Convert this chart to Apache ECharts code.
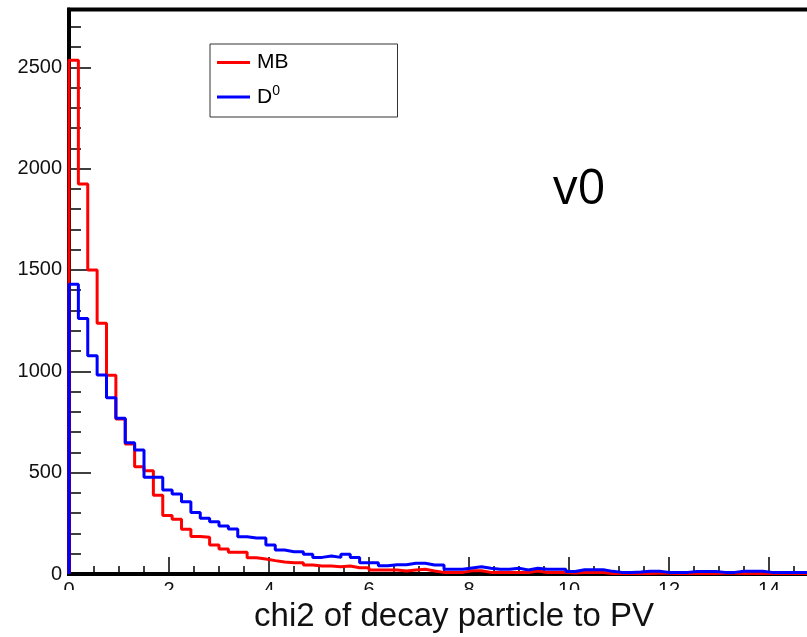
<!DOCTYPE html>
<html>
<head>
<meta charset="utf-8">
<script src="https://cdn.jsdelivr.net/npm/echarts@6/dist/echarts.min.js"></script>
<style>html,body{margin:0;padding:0;background:#fff;}#c{width:807px;height:637px;}</style>
</head>
<body>
<div id="c"></div>
<script>
// ---- data (histogram, 80 bins from 0 to 15) ----
const binWidth = 0.1875;
const xMin = 0, xMax = 15;
const seriesNames = ['MB', 'D0'];
const mbCounts = [2535,1924,1500,1237,980,765,641,529,510,388,
  288,270,221,185,181,143,123,107,107,80,
  74,66,59,56,56,44,39,39,36,39,
  31,31,20,20,20,15,20,23,15,8,
  8,8,16,16,8,7,7,7,7,15,
  7,7,7,5,7,7,7,2,2,4,
  2,2,4,4,2,2,4,2,3,4,
  4,3,2,2,4,2,2,2,2,2];
const d0Counts = [1430,1261,1077,982,870,768,648,612,477,477,
  414,395,357,304,275,258,237,222,184,178,
  178,143,118,110,110,97,82,89,82,97,
  82,56,56,41,46,46,53,53,44,44,
  23,23,30,36,28,23,23,28,20,28,
  23,23,23,12,21,21,21,13,8,8,
  10,13,13,8,8,8,12,12,12,8,
  8,13,13,13,8,7,7,7,7,7];
const xMajorTicks = [0,2,4,6,8,10,12,14];
const xMinorTicks = [0,0.5,1,1.5,2,2.5,3,3.5,4,4.5,5,5.5,6,6.5,7,7.5,8,8.5,9,9.5,10,10.5,11,11.5,12,12.5,13,13.5,14,14.5];
const yMax = 2785;
const yMajorTicks = [0,500,1000,1500,2000,2500];
const yMinorTicks = [0,100,200,300,400,500,600,700,800,900,1000,1100,1200,1300,1400,1500,1600,1700,1800,1900,2000,2100,2200,2300,2400,2500,2600,2700];
const xTitle = 'chi2 of decay particle to PV';
const annotation = 'v0';

function histPoints(counts) {
  const pts = [[xMin, 0]];
  counts.forEach((v, k) => pts.push([k * binWidth, v]));
  pts.push([xMin + counts.length * binWidth, counts[counts.length - 1]]);
  return pts;
}

const FONT = 'Liberation Sans, Arial, Helvetica, sans-serif';
const chart = echarts.init(document.getElementById('c'), null, {renderer: 'canvas'});

const axisLabelStyle = {fontSize: 20, fontFamily: FONT, color: '#111', formatter: function (v) { return String(v); }};

chart.setOption({
  animation: false,
  backgroundColor: '#fff',
  grid: {left: 69, top: 9.5, width: 750, height: 564.5, show: true, borderColor: '#000', borderWidth: 4, backgroundColor: 'transparent', containLabel: false, outerBoundsMode: 'none'},
  xAxis: [
    {type: 'value', min: xMin, max: xMax, position: 'bottom',
     axisLine: {show: true, lineStyle: {color: '#000', width: 4}},
     axisTick: {show: true, inside: true, length: 8, customValues: xMinorTicks, lineStyle: {color: '#000', width: 1.5}},
     axisLabel: {show: true, margin: 6, customValues: xMajorTicks, ...axisLabelStyle},
     splitLine: {show: false}},
    {type: 'value', min: xMin, max: xMax, position: 'bottom', offset: 0,
     axisLine: {show: false},
     axisTick: {show: true, inside: true, length: 17, customValues: xMajorTicks, lineStyle: {color: '#000', width: 1.5}},
     axisLabel: {show: false}, splitLine: {show: false}}
  ],
  yAxis: [
    {type: 'value', min: 0, max: yMax, position: 'left',
     axisLine: {show: true, lineStyle: {color: '#000', width: 4}},
     axisTick: {show: true, inside: true, length: 12, customValues: yMinorTicks, lineStyle: {color: '#000', width: 1.5}},
     axisLabel: {show: true, margin: 7, customValues: yMajorTicks, ...axisLabelStyle},
     splitLine: {show: false}},
    {type: 'value', min: 0, max: yMax, position: 'left', offset: 0,
     axisLine: {show: false},
     axisTick: {show: true, inside: true, length: 22, customValues: yMajorTicks, lineStyle: {color: '#000', width: 1.5}},
     axisLabel: {show: false}, splitLine: {show: false}}
  ],
  legend: {
    orient: 'vertical', left: 210, top: 44,
    data: seriesNames,
    icon: 'rect', itemWidth: 33, itemHeight: 3, itemGap: 11,
    padding: [8, 109, 7, 7],
    backgroundColor: '#fff', borderColor: '#333', borderWidth: 1, borderRadius: 0,
    formatter: function (name) { return name === 'D0' ? '{b|D}{s|0}' : '{b|MB}'; },
    textStyle: {
      fontFamily: FONT, color: '#000', fontSize: 21, padding: [0, 0, 0, 2],
      rich: {
        b: {fontFamily: FONT, fontSize: 21, lineHeight: 24, color: '#000'},
        s: {fontFamily: FONT, fontSize: 14, lineHeight: 24, padding: [0, 0, 12, 0], color: '#000'}
      }
    }
  },
  series: [
    {name: 'MB', type: 'line', step: 'end', data: histPoints(mbCounts), symbol: 'none', clip: false,
     color: '#ff0000', lineStyle: {color: '#ff0000', width: 3}, z: 3},
    {name: 'D0', type: 'line', step: 'end', data: histPoints(d0Counts), symbol: 'none', clip: false,
     color: '#0000ff', lineStyle: {color: '#0000ff', width: 3}, z: 4}
  ],
  graphic: [
    {type: 'rect', z: 100, x: 0, y: 590, shape: {x: 0, y: 0, width: 807, height: 47}, style: {fill: '#fff'}},
    {type: 'text', z: 101, x: 454, y: 600, style: {text: xTitle, align: 'center', verticalAlign: 'top', fontFamily: FONT, fontSize: 33, fill: '#111'}},
    {type: 'text', z: 101, x: 553, y: 166, style: {text: annotation, align: 'left', verticalAlign: 'top', fontFamily: 'Open Sans, Noto Sans, sans-serif', fontSize: 49, fill: '#000'}}
  ]
});
</script>
</body>
</html>
